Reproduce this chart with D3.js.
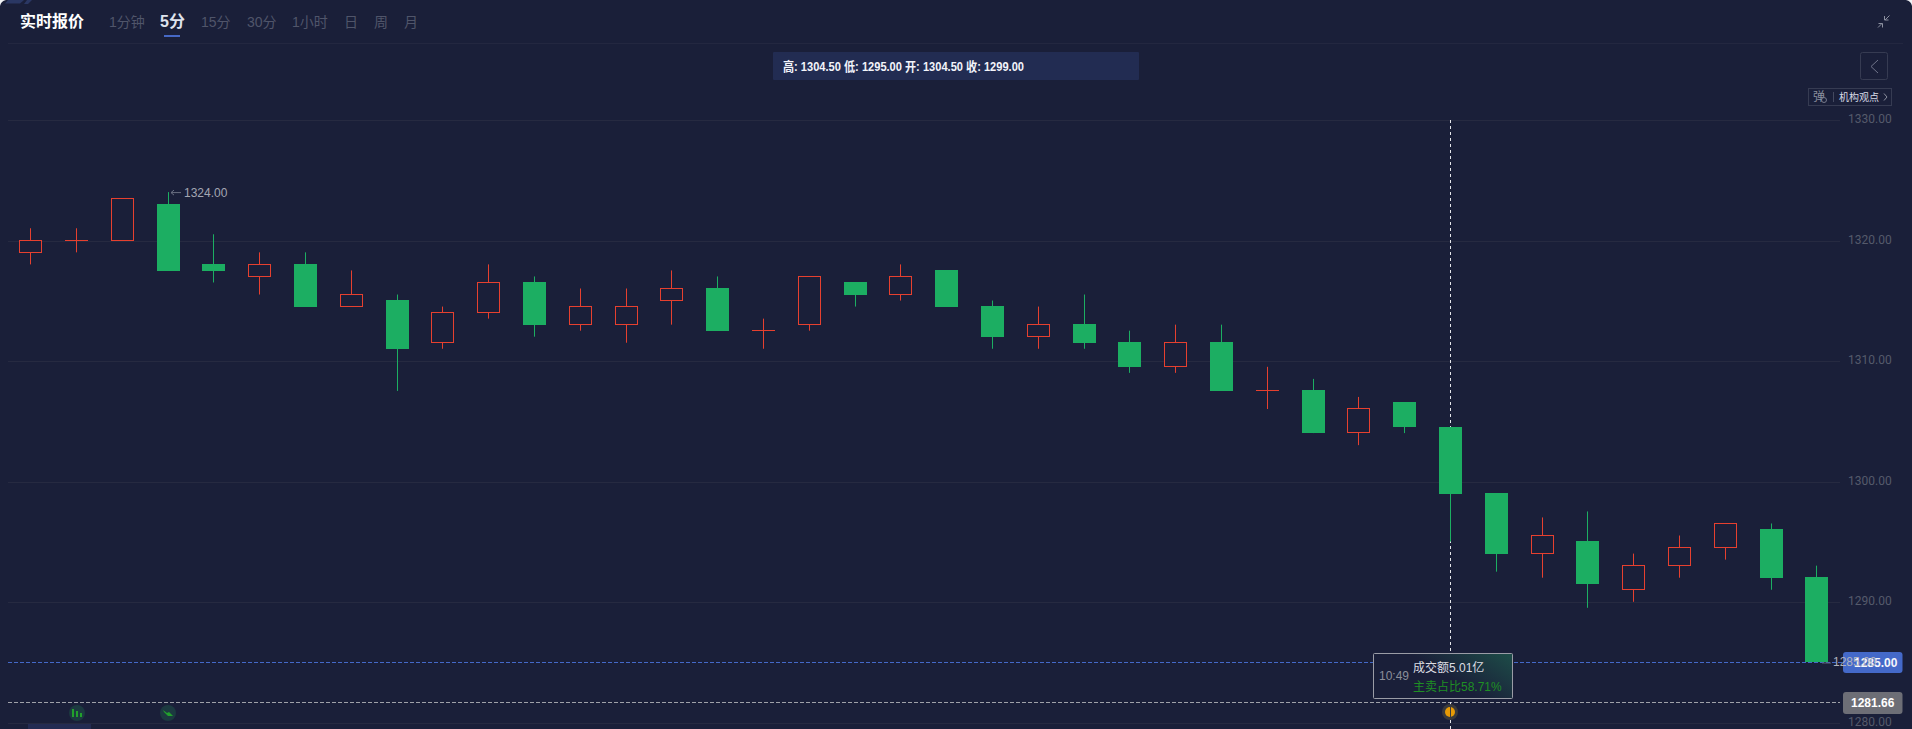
<!DOCTYPE html>
<html><head><meta charset="utf-8">
<script src="https://cdn.jsdelivr.net/npm/d3@7/dist/d3.min.js"></script>
<style>
html,body{margin:0;padding:0;background:#1a1f39;overflow:hidden}
svg{display:block}
text{font-family:"Liberation Sans","Noto Sans CJK SC",sans-serif}
</style></head><body><svg id="c" width="1912" height="729"></svg>
<script>
const opens  = [1319,1320,1320,1323,1318,1317,1318,1314.5,1315,1311.5,1314,1316.5,1313,1313,1315,1316,1312.5,1313,1316.5,1315.5,1317.5,1314.5,1312,1313,1311.5,1309.5,1311.5,1307.5,1307.5,1304,1306.5,1304.5,1299,1294,1295,1291,1293,1294.5,1296,1292];
const closes = [1320,1320,1323.5,1317.5,1317.5,1318,1314.5,1315.5,1311,1314,1316.5,1313,1314.5,1314.5,1316,1312.5,1312.5,1317,1315.5,1317,1314.5,1312,1313,1311.5,1309.5,1311.5,1307.5,1307.5,1304,1306,1304.5,1299,1294,1295.5,1291.5,1293,1294.5,1296.5,1292,1285];
const highs  = [1321,1321,1323.5,1324,1320.5,1319,1319,1317.5,1315.5,1314.5,1318,1317,1316,1316,1317.5,1317,1313.5,1317,1316.5,1318,1317.5,1315,1314.5,1315.5,1312.5,1313,1313,1309.5,1308.5,1307,1306.5,1304.5,1299,1297,1297.5,1294,1295.5,1296.5,1296.5,1293];
const lows   = [1318,1319,1320,1317.5,1316.5,1315.5,1314.5,1314.5,1307.5,1311,1313.5,1312,1312.5,1311.5,1313,1312.5,1311,1312.5,1314.5,1315,1314.5,1311,1311,1311,1309,1309,1307.5,1306,1304,1303,1304,1295,1292.5,1292,1289.5,1290,1292,1293.5,1291,1285];
const priceTicks = [1280,1290,1300,1310,1320,1330];
const tabs = ["1分钟","5分","15分","30分","1小时","日","周","月"];
const tabX = [109,160,201,247,292,344,374,404];
const activeTab = "5分";
const crossIndex = 31;
const lastPrice = 1285, markPrice = 1281.66, highLabel = 1324;
const infoText = "高: 1304.50 低: 1295.00 开: 1304.50 收: 1299.00";

const svg = d3.select("#c");
const y = d3.scaleLinear().domain([1280,1330]).range([722.3,119.8]);
const x = d3.scaleLinear().domain([0,39]).range([30.6,1816.9]);
const px = v => Math.floor(v)+.5;
const GREEN="#1cae62", RED="#e6402f";

// corners
svg.append("path").attr("d","M0 0H6Q1 1 0 6Z").attr("fill","#f2f3f6");
svg.append("path").attr("d","M1912 0H1906Q1911 1 1912 6Z").attr("fill","#f2f3f6");
svg.append("path").attr("d","M8 0H24L20 3.5H5Z").attr("fill","#2a3763");
svg.append("path").attr("d","M27 0H32L28 4H24Z").attr("fill","#2a3763");

// header
svg.append("text").attr("x",20).attr("y",27).attr("fill","#fff").attr("font-size",16).attr("font-weight",700).text("实时报价");
svg.selectAll("text.tab").data(tabs).join("text").attr("class","tab")
  .attr("x",(d,i)=>tabX[i]).attr("y",27)
  .attr("font-size",d=>d===activeTab?16:14).attr("font-weight",d=>d===activeTab?700:400)
  .attr("fill",d=>d===activeTab?"#dfe3ee":"#50556a").text(d=>d);
svg.append("rect").attr("x",164).attr("y",35).attr("width",16).attr("height",2).attr("fill","#4668c5");
svg.append("line").attr("x1",8).attr("x2",1903).attr("y1",43.5).attr("y2",43.5).attr("stroke","#232740");
// shrink icon
svg.append("path").attr("d","M1878 27.5L1882 23.5M1878.5 23.5H1882.5V27.5M1889.5 15.5L1885 20M1884.5 16V20H1888.5").attr("fill","none").attr("stroke","#8b8f9f").attr("stroke-width",1);

// info bar
svg.append("rect").attr("x",773).attr("y",52).attr("width",366).attr("height",28).attr("rx",1).attr("fill","#222c52");
svg.append("text").attr("x",783).attr("y",71).attr("fill","#f2f4fa").attr("font-size",13).attr("font-weight",700)
  .attr("textLength",241).attr("lengthAdjust","spacingAndGlyphs").text(infoText);

// collapse btn + tag
svg.append("rect").attr("x",1860.5).attr("y",52.5).attr("width",27).attr("height",27).attr("rx",2).attr("fill","none").attr("stroke","#363b52");
svg.append("path").attr("d","M1878 60L1871 66.5L1878 73").attr("fill","none").attr("stroke","#70748a");
svg.append("rect").attr("x",1808.5).attr("y",88.5).attr("width",83).attr("height",17).attr("fill","none").attr("stroke","#363b52");
svg.append("text").attr("x",1813).attr("y",101).attr("font-size",12).attr("fill","#8b8f9f").text("弹");
svg.append("circle").attr("cx",1824).attr("cy",100).attr("r",2.5).attr("fill","#1a1f39").attr("stroke","#8b8f9f").attr("stroke-width",.8);
svg.append("line").attr("x1",1833.5).attr("x2",1833.5).attr("y1",92).attr("y2",102).attr("stroke","#444960");
svg.append("text").attr("x",1839).attr("y",101).attr("font-size",10).attr("fill","#d8dbe6").text("机构观点");
svg.append("path").attr("d","M1884 93.5L1887 97L1884 100.5").attr("fill","none").attr("stroke","#8b8f9f");

// axis + grid
const axis = d3.axisRight(y).tickValues(priceTicks).tickSize(-1832).tickPadding(8).tickFormat(d3.format(".2f"));
const ag = svg.append("g").attr("transform","translate(1840,0)").call(axis);
ag.select(".domain").remove();
ag.selectAll("line").attr("stroke","#262a41");
ag.selectAll("text").attr("fill","#555a6b").attr("font-size",12).attr("dy","0.2em").style("font-family",'"Roboto","Liberation Sans",sans-serif');
ag.selectAll(".tick").attr("transform",d=>`translate(0,${px(y(d))+1})`);

// dashed price lines
const line = (v,c,x2)=>svg.append("line").attr("x1",8).attr("x2",x2).attr("y1",px(y(v))).attr("y2",px(y(v))).attr("stroke",c).attr("stroke-dasharray","4 2");
line(lastPrice,"#4469c9",1843);
line(markPrice,"#9fa1a9",1840);

// crosshair
svg.append("line").attr("x1",px(x(crossIndex))).attr("x2",px(x(crossIndex))).attr("y1",120).attr("y2",729)
  .attr("stroke","#e4e5ea").attr("stroke-dasharray","3 3");

// candles
const idx = d3.range(opens.length);
const isUp = i => closes[i] >= opens[i];
const g = svg.append("g");
g.selectAll("line.w").data(idx).join("line").attr("class","w")
  .attr("x1",i=>px(x(i))).attr("x2",i=>px(x(i)))
  .attr("y1",i=>y(highs[i])).attr("y2",i=>y(lows[i]))
  .attr("stroke",i=>isUp(i)?RED:GREEN);
const bodies = idx.filter(i=>opens[i]!==closes[i]);
const dojis  = idx.filter(i=>opens[i]===closes[i]);
g.selectAll("rect.b").data(bodies).join("rect").attr("class","b")
  .attr("x",i=>Math.floor(x(i))-11+.5).attr("width",22)
  .attr("y",i=>Math.floor(y(Math.max(opens[i],closes[i])))+.5)
  .attr("height",i=>Math.round(Math.abs(y(opens[i])-y(closes[i]))))
  .attr("fill",i=>isUp(i)?"#1a1f39":GREEN)
  .attr("stroke",i=>isUp(i)?RED:GREEN);
g.selectAll("line.d").data(dojis).join("line").attr("class","d")
  .attr("x1",i=>Math.floor(x(i))-11).attr("x2",i=>Math.floor(x(i))+12)
  .attr("y1",i=>px(y(opens[i]))).attr("y2",i=>px(y(opens[i])))
  .attr("stroke",RED);

// high label
const hi = highs.indexOf(highLabel);
svg.append("path").attr("d",`M${x(hi)+3} ${y(highLabel)+.5}H${x(hi)+13}M${x(hi)+6} ${y(highLabel)-2}L${x(hi)+3} ${y(highLabel)+.5}L${x(hi)+6} ${y(highLabel)+3}`).attr("fill","none").attr("stroke","#6a6f82");
svg.append("text").attr("x",x(hi)+16).attr("y",y(highLabel)+4.5).attr("font-size",12).attr("fill","#a3a6b2").text(highLabel.toFixed(2));

// badges
svg.append("rect").attr("x",1843).attr("y",652).attr("width",59.5).attr("height",21).attr("rx",3).attr("fill","#4469c9");
svg.append("text").attr("x",1854).attr("y",667).attr("font-size",12).attr("font-weight",700).attr("fill","#f4f6fc").text(lastPrice.toFixed(2));
svg.append("rect").attr("x",1843).attr("y",692).attr("width",59.5).attr("height",22).attr("rx",3).attr("fill","#6d6e76");
svg.append("text").attr("x",1851).attr("y",707).attr("font-size",12).attr("font-weight",700).attr("fill","#fff").text(markPrice.toFixed(2));

// low label, lying over the badge
svg.append("path").attr("d",`M1822 ${y(lastPrice)+1}h9`).attr("stroke","#5d6275").attr("fill","none");
svg.append("text").attr("x",1833).attr("y",y(lastPrice)+4).attr("font-size",12).attr("fill","#b0b3be").text(lastPrice.toFixed(2));

// tooltip
const defs = svg.append("defs");
const lg = defs.append("linearGradient").attr("id","tg").attr("x1","0").attr("x2","1").attr("y1","0.6").attr("y2","0.1");
lg.append("stop").attr("offset","0.45").attr("stop-color","#1a1f39");
lg.append("stop").attr("offset","1").attr("stop-color","#1d4a47");
svg.append("rect").attr("x",1373.5).attr("y",653.5).attr("width",139).attr("height",45).attr("rx",1).attr("fill","url(#tg)").attr("stroke","#9a9ca6");
svg.append("text").attr("x",1379).attr("y",680).attr("font-size",12).attr("fill","#8b8e9a").text("10:49");
svg.append("text").attr("x",1413).attr("y",672).attr("font-size",12).attr("fill","#dcdde2").text("成交额5.01亿");
svg.append("text").attr("x",1413).attr("y",691).attr("font-size",12).attr("fill","#1f8f24").text("主卖占比58.71%");

// event markers
const mk = (cx,c)=>{svg.append("circle").attr("cx",cx).attr("cy",713).attr("r",8).attr("fill",c);};
mk(77,"#1c3a40"); mk(168,"#1c3a40");
svg.append("path").attr("d","M72 717V709h2v8zM76 717V711h2v6zM80 717V713h2v4z").attr("fill","#22a02c");
svg.append("path").attr("d","M163 710L167 713L169 712L173 716H168L166 714L164 712Z").attr("fill","#22a02c");
svg.append("circle").attr("cx",1450).attr("cy",712).attr("r",8).attr("fill","#3a3a3c");
svg.append("circle").attr("cx",1450).attr("cy",712).attr("r",5).attr("fill","#e79a06");
svg.append("line").attr("x1",1450.5).attr("x2",1450.5).attr("y1",707).attr("y2",717).attr("stroke","#3a3a3c");

// bottom patch
svg.append("rect").attr("x",28).attr("y",724).attr("width",63).attr("height",5).attr("fill","#232b52");
</script></body></html>
